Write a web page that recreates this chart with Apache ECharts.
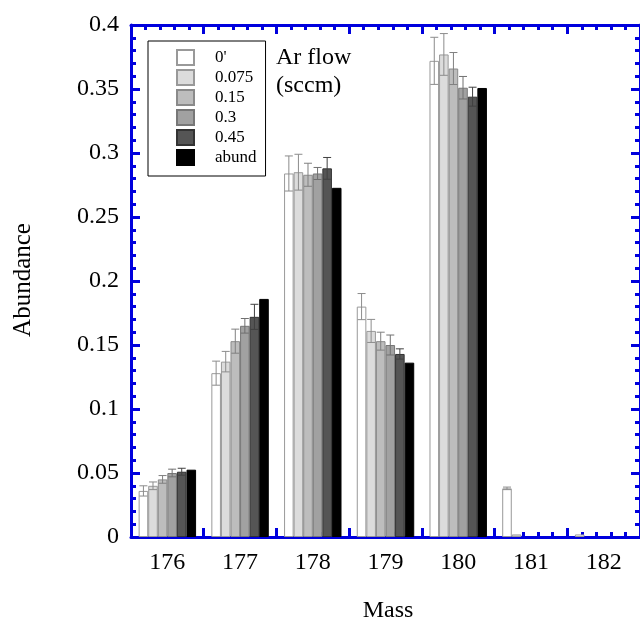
<!DOCTYPE html>
<html>
<head>
<meta charset="utf-8">
<script src="https://cdn.jsdelivr.net/npm/echarts@6/dist/echarts.min.js"></script>
<style>
  html, body { margin: 0; padding: 0; background: #ffffff; }
  #chart { width: 640px; height: 622px; }
</style>
</head>
<body>
<div id="chart"></div>
<script>
// Hafnium isotope abundances measured at several Ar flow rates (sccm)
const categories = ['176', '177', '178', '179', '180', '181', '182'];
const seriesNames = ["0'", '0.075', '0.15', '0.3', '0.45', 'abund'];

const flow0    = [0.036, 0.128, 0.284, 0.180, 0.372, 0.038, 0.002];
const flow0075 = [0.040, 0.137, 0.285, 0.161, 0.377, 0.002, null];
const flow015  = [0.045, 0.153, 0.283, 0.153, 0.366, null, null];
const flow03   = [0.050, 0.165, 0.284, 0.150, 0.351, null, null];
const flow045  = [0.051, 0.172, 0.288, 0.143, 0.344, null, null];
const abund    = [0.0526, 0.1860, 0.2728, 0.1362, 0.3508, null, null];

const err0    = [0.004, 0.0094, 0.0137, 0.0102, 0.0184, 0.001, 0];
const err0075 = [0.003, 0.008, 0.014, 0.009, 0.0163, 0, 0];
const err015  = [0.003, 0.0094, 0.009, 0.007, 0.0125, 0, 0];
const err03   = [0.003, 0.0057, 0.0047, 0.0078, 0.0088, 0, 0];
const err045  = [0.0027, 0.0098, 0.0085, 0.004, 0.0074, 0, 0];

const yTicks = { min: 0, max: 0.4, interval: 0.05 };

const values = [flow0, flow0075, flow015, flow03, flow045, abund];
const errors = [err0, err0075, err015, err03, err045, null];
const fills   = ['#ffffff', '#dcdcdc', '#bdbdbd', '#a1a1a1', '#555555', '#000000'];
const borders = ['#999999', '#999999', '#8a8a8a', '#777777', '#333333', '#000000'];
const errColors = ['#8c8c8c', '#8c8c8c', '#808080', '#707070', '#404040', '#000000'];

const AXIS = '#0000dd';
const FONT = '"Liberation Serif", "Times New Roman", serif';
const CAT_GAP = 0.21;

const barSeries = values.map((vals, i) => ({
  name: seriesNames[i],
  type: 'bar',
  xAxisIndex: 0,
  yAxisIndex: 0,
  data: vals.map(v => (v === null ? '-' : v)),
  barGap: '0%',
  barCategoryGap: (CAT_GAP * 100) + '%',
  itemStyle: { color: fills[i], borderColor: borders[i], borderWidth: 1 },
  emphasis: { disabled: true },
  z: 2
}));

function errorSeries(idx) {
  const vals = values[idx], errs = errors[idx];
  return {
    name: 'err-' + idx,
    type: 'custom',
    xAxisIndex: 0,
    yAxisIndex: 0,
    z: 5,
    silent: true,
    data: vals.map((v, i) => [i, v === null ? 0 : v, errs[i] || 0]),
    renderItem: function (params, api) {
      const ci = api.value(0), v = api.value(1), e = api.value(2);
      if (!e) return null;
      const band = api.size([1, 0])[0];
      const bw = band * (1 - CAT_GAP) / 6;
      const cx = api.coord([ci, v])[0] + (idx - 2.5) * bw;
      const yTop = api.coord([ci, v + e])[1];
      const yBot = api.coord([ci, v - e])[1];
      const half = 4;
      const style = { stroke: errColors[idx], lineWidth: 1 };
      return {
        type: 'group',
        children: [
          { type: 'line', shape: { x1: cx, y1: yTop, x2: cx, y2: yBot }, style: style },
          { type: 'line', shape: { x1: cx - half, y1: yTop, x2: cx + half, y2: yTop }, style: style },
          { type: 'line', shape: { x1: cx - half, y1: yBot, x2: cx + half, y2: yBot }, style: style }
        ]
      };
    }
  };
}

const errSeries = [0, 1, 2, 3, 4].map(errorSeries);

// frame axes that only carry ticks
function tickAxis(pos) {
  return {
    type: 'value',
    position: pos,
    min: 0, max: categories.length, interval: 1,
    axisLine: { show: true, onZero: false, lineStyle: { color: AXIS, width: 3 } },
    axisTick: { show: true, inside: true, length: 9, lineStyle: { color: AXIS, width: 3 } },
    minorTick: { show: true, splitNumber: 5, length: 5, lineStyle: { color: AXIS, width: 3 } },
    axisLabel: { show: false },
    splitLine: { show: false },
    minorSplitLine: { show: false }
  };
}

const option = {
  animation: false,
  backgroundColor: '#ffffff',
  grid: { left: 131, top: 25, width: 513, height: 512, containLabel: false },
  legend: {
    data: seriesNames,
    orient: 'vertical',
    left: 148,
    top: 41,
    padding: [8, 9, 10, 28],
    itemWidth: 17,
    itemHeight: 15,
    itemGap: 3,
    icon: 'rect',
    borderColor: '#000000',
    borderWidth: 1,
    selectedMode: false,
    textStyle: { fontFamily: FONT, fontSize: 17, color: '#000000', lineHeight: 17, padding: [0, 0, 0, 16] }
  },
  xAxis: [
    {
      type: 'category',
      data: categories,
      position: 'bottom',
      boundaryGap: true,
      axisLine: { show: false },
      axisTick: { show: false },
      axisLabel: { show: true, margin: 14, fontFamily: FONT, fontSize: 24, color: '#000000' },
      splitLine: { show: false }
    },
    tickAxis('bottom'),
    tickAxis('top')
  ],
  yAxis: [
    {
      type: 'value',
      position: 'left',
      min: yTicks.min, max: yTicks.max, interval: yTicks.interval,
      axisLine: { show: true, onZero: false, lineStyle: { color: AXIS, width: 3 } },
      axisTick: { show: true, inside: true, length: 9, lineStyle: { color: AXIS, width: 3 } },
      minorTick: { show: true, splitNumber: 5, length: 5, lineStyle: { color: AXIS, width: 3 } },
      axisLabel: { margin: 12, fontFamily: FONT, fontSize: 24, color: '#000000' },
      splitLine: { show: false },
      minorSplitLine: { show: false }
    },
    {
      type: 'value',
      position: 'right',
      min: yTicks.min, max: yTicks.max, interval: yTicks.interval,
      axisLine: { show: true, onZero: false, lineStyle: { color: AXIS, width: 3 } },
      axisTick: { show: true, inside: true, length: 9, lineStyle: { color: AXIS, width: 3 } },
      minorTick: { show: true, splitNumber: 5, length: 5, lineStyle: { color: AXIS, width: 3 } },
      axisLabel: { show: false },
      splitLine: { show: false },
      minorSplitLine: { show: false }
    }
  ],
  graphic: [
    {
      type: 'text', left: 276, top: 44,
      style: { text: 'Ar flow\n(sccm)', font: '24px ' + FONT, fill: '#000000', lineHeight: 28 }
    },
    {
      type: 'text', x: 388, y: 611,
      style: { text: 'Mass', font: '24px ' + FONT, fill: '#000000', align: 'center', verticalAlign: 'middle' }
    },
    {
      type: 'text', x: 23, y: 280, rotation: Math.PI / 2,
      style: { text: 'Abundance', font: '25px ' + FONT, fill: '#000000', align: 'center', verticalAlign: 'middle' }
    }
  ],
  series: barSeries.concat(errSeries)
};

const chart = echarts.init(document.getElementById('chart'), null, { renderer: 'canvas' });
chart.setOption(option);
</script>
</body>
</html>
